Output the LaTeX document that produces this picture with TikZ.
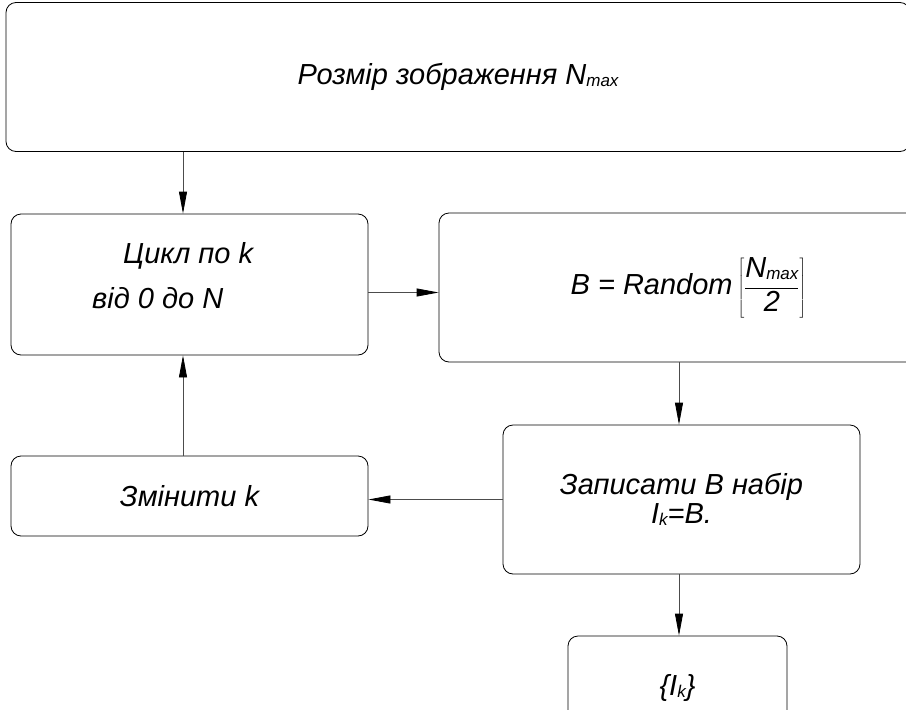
\documentclass[tikz,border=0pt]{standalone}
\usepackage{fontspec}
\setmainfont{Liberation Sans}
\usetikzlibrary{arrows.meta}

\newcommand{\lo}[1]{\raisebox{-0.15ex}{\fontsize{17}{17}\selectfont #1}}

\tikzset{
  blk/.style={draw, line width=0.8pt, rounded corners=10pt, font=\fontsize{29}{32}\selectfont\itshape, align=center, inner sep=0pt},
  txt/.style={font=\fontsize{29}{32}\selectfont\itshape, inner sep=0pt, anchor=base west},
  arr/.style={draw=black!70, line width=0.8pt, -{Triangle[length=22pt,width=8pt,black]}}
}

\begin{document}
\begin{tikzpicture}[x=1pt, y=-1pt]
\useasboundingbox (0,0) rectangle (906,710);
\clip (0,0) rectangle (906,710);

\node[blk, minimum width=904pt, minimum height=149pt] (size) at (458,77) {Розмір зображення N\lo{max}};
\node[blk, minimum width=357pt, minimum height=141pt] (loop) at (189.5,284.5) {};
\node[txt] (loopA) at (123,263) {Цикл по k};
\node[txt] (loopB) at (92,308) {від 0 до N};
\node[blk, minimum width=499pt, minimum height=149pt] (rnd) at (688.5,287.5) {B = Random\,$\left[\displaystyle\frac{\mbox{\itshape N\lo{max}}}{\mbox{\itshape 2}}\right]$};
\node[blk, minimum width=357pt, minimum height=149pt] (rec) at (681.5,499.5) {Записати В набір\\[-3pt]I\lo{k}=B.};
\node[blk, minimum width=357pt, minimum height=80pt] (chg) at (189.5,496) {Змінити k};
\node[blk, minimum width=219pt, minimum height=104pt] (res) at (677.5,688) {\{I\lo{k}\}};

\draw[arr] (size.south -| 183,0) -- (loop.north -| 183,0);
\draw[arr] ([yshift=-8pt]loop.east) -- ([yshift=-8pt]loop.east -| rnd.west);
\draw[arr] (rnd.south -| 679,0) -- (rec.north -| 679,0);
\draw[arr] (rec.south -| 679,0) -- (res.north -| 679,0);
\draw[arr] (rec.west) -- (rec.west -| chg.east);
\draw[arr] (chg.north -| 183,0) -- (loop.south -| 183,0);
\end{tikzpicture}
\end{document}
